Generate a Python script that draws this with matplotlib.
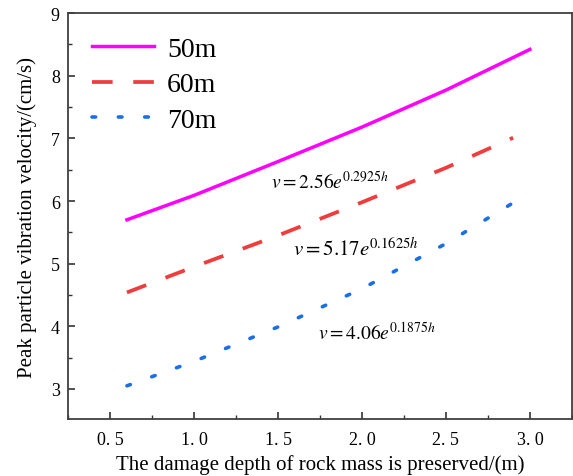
import numpy as np
import matplotlib
matplotlib.use('Agg')
import matplotlib.pyplot as plt
from matplotlib.ticker import MultipleLocator

plt.rcParams['font.family'] = ['Liberation Serif', 'DejaVu Serif']
plt.rcParams['mathtext.fontset'] = 'stix'

# values
h_50 = [0.6, 1.0, 1.5, 2.0, 2.5, 3.0]
v_50 = [5.70, 6.09, 6.63, 7.18, 7.77, 8.42]
h_60 = [0.6, 1.0, 1.5, 2.0, 2.5, 2.9]
v_60 = [4.54, 4.95, 5.45, 5.98, 6.53, 7.01]
h_70 = [0.6, 1.0, 1.5, 2.0, 2.5, 2.9]
v_70 = [3.05, 3.44, 3.99, 4.60, 5.32, 5.97]

labels = ['50m', '60m', '70m']
fits = [r'$v=2.56e^{0.2925h}$', r'$v=5.17e^{0.1625h}$', r'$v=4.06e^{0.1875h}$']
fit_pos = [(1.46, 6.31), (1.59, 5.24), (1.74, 3.91)]
fit_size = [14, 15, 14]
xticks = [0.5, 1.0, 1.5, 2.0, 2.5, 3.0]
xticklabels = ['0. 5', '1. 0', '1. 5', '2. 0', '2. 5', '3. 0']

fig = plt.figure(figsize=(5.73, 4.77), dpi=100)
ax = fig.add_axes([0.119, 0.1195, 0.879, 0.851])

ax.plot(h_50, v_50, color='#FF00FF', lw=2.5, label=labels[0])
ax.plot(h_60, v_60, color='#F03C3C', lw=2.7, dashes=(5.5, 5.5), label=labels[1])
ax.plot(h_70, v_70, color='#1A6FE6', lw=2.6, dashes=(1.0, 6.3),
        dash_capstyle='round', label=labels[2])

for txt, (x, y), fs in zip(fits, fit_pos, fit_size):
    ax.text(x, y, txt, fontsize=fs, va='center', ha='left')

ax.set_xlim(0.25, 3.25)
ax.set_ylim(2.52, 9)
ax.set_xticks(xticks)
ax.set_xticklabels(xticklabels)
ax.xaxis.set_minor_locator(MultipleLocator(0.25))
ax.yaxis.set_major_locator(MultipleLocator(1))
ax.yaxis.set_minor_locator(MultipleLocator(0.5))
ax.tick_params(which='both', direction='in', labelsize=13, color='#333333')
ax.tick_params(axis='x', pad=9)
ax.tick_params(axis='y', pad=6)
ax.tick_params(which='major', length=5, width=1.2)
ax.tick_params(which='minor', length=3, width=1.0)
for s in ax.spines.values():
    s.set_color('#404040')
    s.set_linewidth(1.3)

ax.set_xlabel('The damage depth of rock mass is preserved/(m)', fontsize=15, labelpad=4)
ax.set_ylabel('Peak particle vibration velocity/(cm/s)', fontsize=15, labelpad=10)

ax.legend(loc='upper left', frameon=False, fontsize=20, handlelength=2.25,
          handletextpad=0.45, labelspacing=0.36, borderaxespad=0.0,
          bbox_to_anchor=(0.025, 0.97))

fig.savefig('out.png', dpi=100)
